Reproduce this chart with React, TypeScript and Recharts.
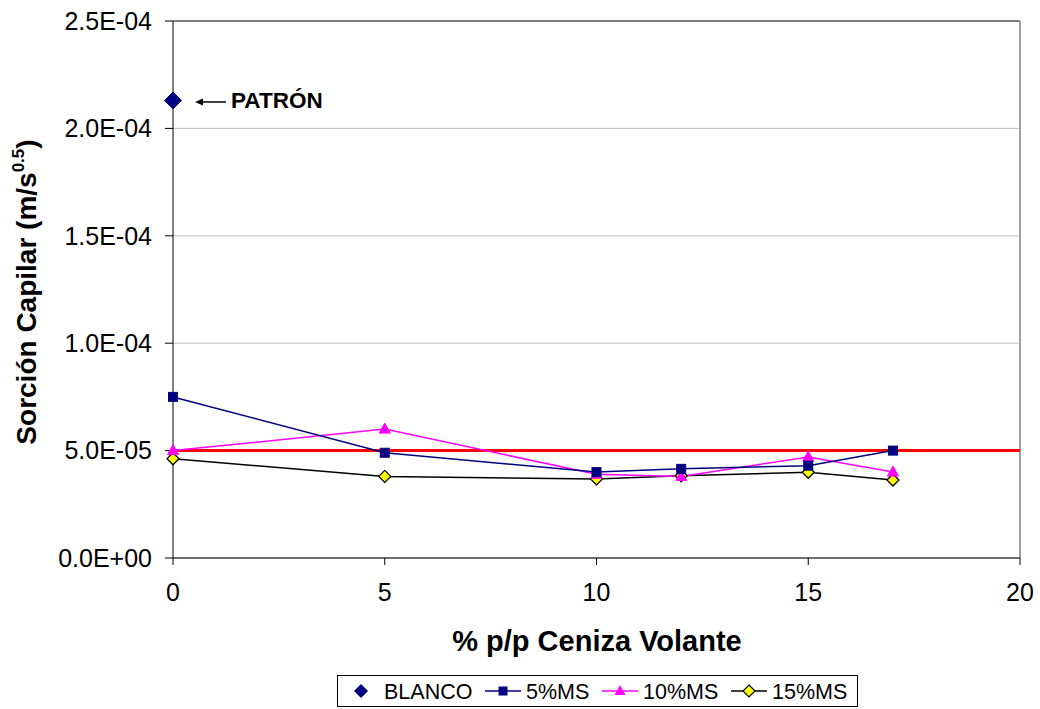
import React from 'react';
import { ComposedChart, Line, XAxis, YAxis, CartesianGrid, ReferenceLine } from 'recharts';

const xValues = [0, 5, 10, 12, 15, 17];
const blanco = [2.13e-4, null, null, null, null, null];
const ms5 = [7.5e-5, 4.9e-5, 4.0e-5, 4.15e-5, 4.3e-5, 5.0e-5];
const ms10 = [5.0e-5, 6.0e-5, 3.9e-5, 3.8e-5, 4.7e-5, 4.0e-5];
const ms15 = [4.62e-5, 3.8e-5, 3.68e-5, 3.83e-5, 3.99e-5, 3.63e-5];
const xTicks = [0, 5, 10, 15, 20];
const yTicks = [0, 5e-5, 1e-4, 1.5e-4, 2e-4, 2.5e-4];
const limitValue = 5e-5;
const seriesNames = ['BLANCO', '5%MS', '10%MS', '15%MS'];

const data = xValues.map((x, i) => ({
  x,
  blanco: blanco[i],
  ms5: ms5[i],
  ms10: ms10[i],
  ms15: ms15[i],
}));

const FONT = '"Liberation Sans", Arial, sans-serif';
const NAVY = '#000080';
const MAGENTA = '#FF00FF';
const YELLOW = '#FFFF00';

function fmtSci(v: number): string {
  if (v === 0) return '0.0E+00';
  let e = Math.floor(Math.log10(Math.abs(v)) + 1e-9);
  let m = v / Math.pow(10, e);
  const ms = (Math.round(m * 10) / 10).toFixed(1);
  return ms + 'E' + (e < 0 ? '-' : '+') + String(Math.abs(e)).padStart(2, '0');
}

const SquareDot = (props: any) => {
  const { cx, cy, value } = props;
  if (value == null || cx == null || cy == null) return null;
  return <rect x={cx - 4.5} y={cy - 4.5} width={9} height={9} fill={NAVY} stroke={NAVY} strokeWidth={1} />;
};

const TriangleDot = (props: any) => {
  const { cx, cy, value } = props;
  if (value == null || cx == null || cy == null) return null;
  return <polygon points={`${cx},${cy - 6} ${cx + 5.5},${cy + 4} ${cx - 5.5},${cy + 4}`} fill={MAGENTA} stroke={MAGENTA} strokeWidth={1} />;
};

const YellowDiamondDot = (props: any) => {
  const { cx, cy, value } = props;
  if (value == null || cx == null || cy == null) return null;
  return <polygon points={`${cx},${cy - 6} ${cx + 6},${cy} ${cx},${cy + 6} ${cx - 6},${cy}`} fill={YELLOW} stroke="#000" strokeWidth={1.3} />;
};

const BlancoDot = (props: any) => {
  const { cx, cy, value } = props;
  if (value == null || cx == null || cy == null) return null;
  return (
    <g>
      <polygon points={`${cx},${cy - 8.5} ${cx + 8.5},${cy} ${cx},${cy + 8.5} ${cx - 8.5},${cy}`} fill={NAVY} stroke={NAVY} />
      <line x1={cx + 24} y1={cy + 1.5} x2={cx + 53} y2={cy + 1.5} stroke="#000" strokeWidth={1.5} />
      <polygon points={`${cx + 22},${cy + 1.5} ${cx + 30},${cy - 2} ${cx + 30},${cy + 5}`} fill="#000" />
      <text x={cx + 58} y={cy + 8} fontFamily={FONT} fontWeight="bold" fontSize={22.5} fill="#000">PATRÓN</text>
    </g>
  );
};

const YTitle = () => (
  <text
    transform="translate(36, 292) rotate(-90)"
    textAnchor="middle"
    fontFamily={FONT}
    fontWeight="bold"
    fontSize={28}
    fill="#000"
  >
    Sorción Capilar (m/s
    <tspan fontSize={17} dy={-12}>0.5</tspan>
    <tspan dy={12}>)</tspan>
  </text>
);

const XTitle = () => (
  <text x={597} y={651} textAnchor="middle" fontFamily={FONT} fontWeight="bold" fontSize={29} fill="#000">
    % p/p Ceniza Volante
  </text>
);

const LegendBox = () => {
  const cy = 16;
  const fs = 21.5;
  const base = cy + 7.5;
  return (
    <svg width={521} height={32} style={{ position: 'absolute', left: 337, top: 675 }}>
      <rect x={0.5} y={0.5} width={520} height={31} fill="#fff" stroke="#000" strokeWidth={1} />
      <polygon points={`${24},${cy - 7} ${31},${cy} ${24},${cy + 7} ${17},${cy}`} fill={NAVY} />
      <text x={47} y={base} fontFamily={FONT} fontSize={fs} fill="#000">{seriesNames[0]}</text>
      <line x1={148} y1={cy} x2={184} y2={cy} stroke={NAVY} strokeWidth={1.5} />
      <rect x={161.5} y={cy - 4.5} width={9} height={9} fill={NAVY} />
      <text x={189} y={base} fontFamily={FONT} fontSize={fs} fill="#000">{seriesNames[1]}</text>
      <line x1={265} y1={cy} x2={301} y2={cy} stroke={MAGENTA} strokeWidth={1.5} />
      <polygon points={`${283},${cy - 6} ${288.5},${cy + 4} ${277.5},${cy + 4}`} fill={MAGENTA} />
      <text x={306} y={base} fontFamily={FONT} fontSize={fs} fill="#000">{seriesNames[2]}</text>
      <line x1={394} y1={cy} x2={430} y2={cy} stroke="#000" strokeWidth={1.5} />
      <polygon points={`${412},${cy - 6} ${418},${cy} ${412},${cy + 6} ${406},${cy}`} fill={YELLOW} stroke="#000" strokeWidth={1.2} />
      <text x={435} y={base} fontFamily={FONT} fontSize={fs} fill="#000">{seriesNames[3]}</text>
    </svg>
  );
};

export default function App() {
  return (
    <div style={{ position: 'absolute', left: 0, top: 0, width: 1040, height: 709, background: '#fff' }}>
      <ComposedChart
        width={1040}
        height={709}
        data={data}
        margin={{ top: 21, right: 20, left: 0, bottom: 91 }}
      >
        <CartesianGrid horizontal={true} vertical={false} stroke="#c0c0c0" strokeWidth={1} />
        <ReferenceLine y={2.5e-4} stroke="#808080" strokeWidth={2} />
        <ReferenceLine x={20} stroke="#a0a0a0" strokeWidth={2} />
        <XAxis
          dataKey="x"
          type="number"
          domain={[0, 20]}
          ticks={xTicks}
          stroke="#000"
          tickSize={7}
          tickMargin={18}
          height={60}
          tick={{ fontFamily: FONT, fontSize: 25, fill: '#000' }}
          label={{ content: () => <XTitle /> }}
        />
        <YAxis
          type="number"
          domain={[0, 2.5e-4]}
          ticks={yTicks}
          width={173}
          stroke="#000"
          tickSize={8}
          tickMargin={13}
          tickFormatter={fmtSci}
          tick={{ fontFamily: FONT, fontSize: 25, fill: '#000' }}
          label={{ content: () => <YTitle /> }}
        />
        <ReferenceLine y={limitValue} stroke="#FF0000" strokeWidth={3} />
        <Line dataKey="ms15" name={seriesNames[3]} stroke="#000" strokeWidth={1.5} dot={<YellowDiamondDot />} isAnimationActive={false} type="linear" />
        <Line dataKey="ms10" name={seriesNames[2]} stroke={MAGENTA} strokeWidth={1.5} dot={<TriangleDot />} isAnimationActive={false} type="linear" />
        <Line dataKey="ms5" name={seriesNames[1]} stroke={NAVY} strokeWidth={1.5} dot={<SquareDot />} isAnimationActive={false} type="linear" />
        <Line dataKey="blanco" name={seriesNames[0]} stroke="none" dot={<BlancoDot />} isAnimationActive={false} type="linear" />
      </ComposedChart>
      <LegendBox />
    </div>
  );
}
